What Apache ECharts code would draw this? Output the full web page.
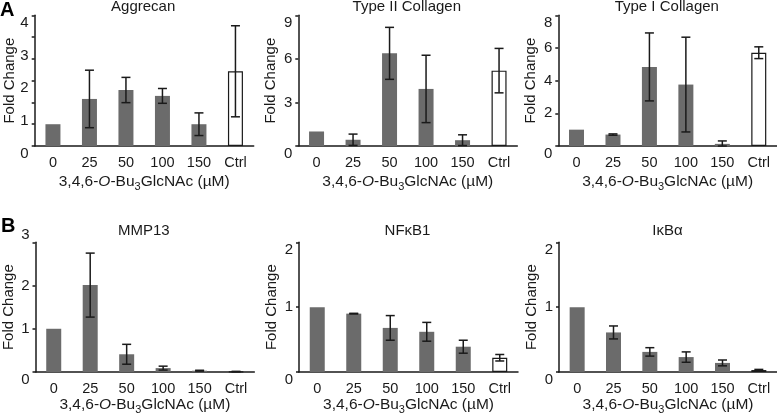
<!DOCTYPE html>
<html><head><meta charset="utf-8">
<script src="https://cdn.jsdelivr.net/npm/echarts@6/dist/echarts.min.js"></script>
<style>html,body{margin:0;padding:0;background:#fff}#c{width:777px;height:417px}</style>
</head><body><div id="c"></div>
<script>
const categories = ['0', '25', '50', '100', '150', 'Ctrl'];
const titles = ['Aggrecan', 'Type II Collagen', 'Type I Collagen', 'MMP13', 'NFκB1', 'IκBα'];
// means and errors (SD) per gene
const aggrecanMean = [1.0, 2.16, 2.57, 2.30, 1.0, 3.43];
const aggrecanErr  = [0, 1.32, 0.58, 0.34, 0.52, 2.09];
const col2Mean = [1.0, 0.43, 6.38, 3.93, 0.40, 5.19];
const col2Err  = [0, 0.39, 1.79, 2.32, 0.37, 1.53];
const col1Mean = [1.0, 0.70, 4.84, 3.76, 0.13, 5.71];
const col1Err  = [0, 0.04, 2.08, 2.90, 0.18, 0.36];
const mmp13Mean = [1.0, 2.01, 0.41, 0.09, 0.03, 0.01];
const mmp13Err  = [0, 0.74, 0.23, 0.045, 0.01, 0.005];
const nfkb1Mean = [1.0, 0.90, 0.68, 0.62, 0.39, 0.22];
const nfkb1Err  = [0, 0.005, 0.19, 0.145, 0.10, 0.05];
const ikbaMean = [1.0, 0.61, 0.31, 0.23, 0.14, 0.03];
const ikbaErr  = [0, 0.10, 0.065, 0.08, 0.045, 0.01];
// y-axis scales (max, interval)
const yMax = [6, 9, 8, 3, 2, 2];
const yInterval = [1, 3, 2, 1, 1, 1];
// Aggrecan printed tick labels (as shown in figure)
const aggrecanLabelMax = 4;
const aggrecanLabelInterval = 1;
const xName = '3,4,6-{i|O}-Bu{s|3}GlcNAc (µM)';

const means = [aggrecanMean, col2Mean, col1Mean, mmp13Mean, nfkb1Mean, ikbaMean];
const errs = [aggrecanErr, col2Err, col1Err, mmp13Err, nfkb1Err, ikbaErr];

const FONT = 'Liberation Sans, Arial, sans-serif';
const INK = '#1a1a1a';
const BAR = '#6b6b6b';

const layout = [
  {left: 34.7, top: 15.3, height: 130.7, nameGap: 25, yNameGap: 17},
  {left: 298.3, top: 15.3, height: 130.7, nameGap: 25, yNameGap: 19.5},
  {left: 558.3, top: 15.3, height: 130.7, nameGap: 25, yNameGap: 19.5},
  {left: 35.3, top: 242.3, height: 129.7, nameGap: 20, yNameGap: 19.5},
  {left: 299, top: 242.3, height: 129.7, nameGap: 20, yNameGap: 19.5},
  {left: 559, top: 242.3, height: 129.7, nameGap: 20, yNameGap: 19.5}
];
const bandW = 36.5;

const grid = [], xAxis = [], yAxis = [], series = [], graphic = [];

function errRender(params, api) {
  const lo = api.coord([api.value(0), api.value(1)]);
  const hi = api.coord([api.value(0), api.value(2)]);
  const hw = 4.5;
  const st = {stroke: INK, lineWidth: 1.5};
  return {type: 'group', children: [
    {type: 'line', shape: {x1: lo[0], y1: lo[1], x2: hi[0], y2: hi[1]}, style: st},
    {type: 'line', shape: {x1: hi[0] - hw, y1: hi[1], x2: hi[0] + hw, y2: hi[1]}, style: st},
    {type: 'line', shape: {x1: lo[0] - hw, y1: lo[1], x2: lo[0] + hw, y2: lo[1]}, style: st}
  ]};
}

for (let p = 0; p < 6; p++) {
  const L = layout[p];
  grid.push({left: L.left, top: L.top, width: bandW * 6, height: L.height, containLabel: false});
  xAxis.push({
    type: 'category', gridIndex: p, data: categories, boundaryGap: true,
    axisLine: {lineStyle: {color: INK, width: 1.5}},
    axisTick: {show: false},
    axisLabel: {color: INK, fontSize: 14.5, fontFamily: FONT, margin: 9, interval: 0},
    name: xName, nameLocation: 'middle', nameGap: L.nameGap,
    nameTextStyle: {color: INK, fontSize: 15.5, fontFamily: FONT,
      rich: {
        i: {fontStyle: 'italic', fontSize: 15.5, fontFamily: FONT, color: INK},
        s: {fontSize: 11, fontFamily: FONT, color: INK, verticalAlign: 'bottom', padding: [10, 0, 0, 0]}
      }}
  });
  const yi = yAxis.length;
  yAxis.push({
    type: 'value', gridIndex: p, min: 0, max: yMax[p], interval: yInterval[p],
    axisLine: {show: true, lineStyle: {color: INK, width: 1.5}},
    axisTick: {show: true, inside: false, length: 3, lineStyle: {color: INK, width: 1.5}},
    splitLine: {show: false},
    axisLabel: p === 0 ? {show: false} : {color: INK, fontSize: 15, fontFamily: FONT, margin: 6,
      verticalAlignMinLabel: 'top', verticalAlignMaxLabel: p === 3 ? 'bottom' : 'top'},
    name: 'Fold Change', nameLocation: 'middle', nameGap: L.yNameGap,
    nameTextStyle: {color: INK, fontSize: 15, fontFamily: FONT}
  });
  if (p === 0) {
    yAxis.push({
      type: 'value', gridIndex: 0, min: 0, max: aggrecanLabelMax, interval: aggrecanLabelInterval,
      position: 'left',
      axisLine: {show: false}, axisTick: {show: false}, splitLine: {show: false},
      axisLabel: {color: INK, fontSize: 15, fontFamily: FONT, margin: 6, verticalAlign: 'top'}
    });
  }
  const m = means[p], e = errs[p];
  series.push({
    type: 'bar', xAxisIndex: p, yAxisIndex: yi, barWidth: 15,
    itemStyle: {color: BAR},
    data: m.map((v, i) => i === 5 ? {value: v, itemStyle: {color: '#fff', borderColor: INK, borderWidth: 1.2}} : v),
    silent: true, animation: false
  });
  const ed = [];
  for (let i = 0; i < 6; i++) if (e[i] > 0) ed.push([i, Math.max(0, m[i] - e[i]), m[i] + e[i]]);
  series.push({
    type: 'custom', xAxisIndex: p, yAxisIndex: yi, renderItem: errRender,
    encode: {x: 0, y: [1, 2]}, data: ed, z: 10, silent: true, animation: false
  });
  graphic.push({type: 'text', x: L.left + bandW * 3 - 1, y: p < 3 ? 7 : 231,
    style: {text: titles[p], fill: INK, font: '15px ' + FONT, textAlign: 'center', textVerticalAlign: 'middle'}});
}
graphic.push({type: 'text', x: 0, y: 0, style: {text: 'A', fill: '#000', font: 'bold 20px ' + FONT, textAlign: 'left', textVerticalAlign: 'top'}});
graphic.push({type: 'text', x: 1, y: 216, style: {text: 'B', fill: '#000', font: 'bold 20px ' + FONT, textAlign: 'left', textVerticalAlign: 'top'}});

const chart = echarts.init(document.getElementById('c'), null, {renderer: 'canvas'});
chart.setOption({animation: false, backgroundColor: '#fff', grid, xAxis, yAxis, series, graphic});
</script></body></html>
